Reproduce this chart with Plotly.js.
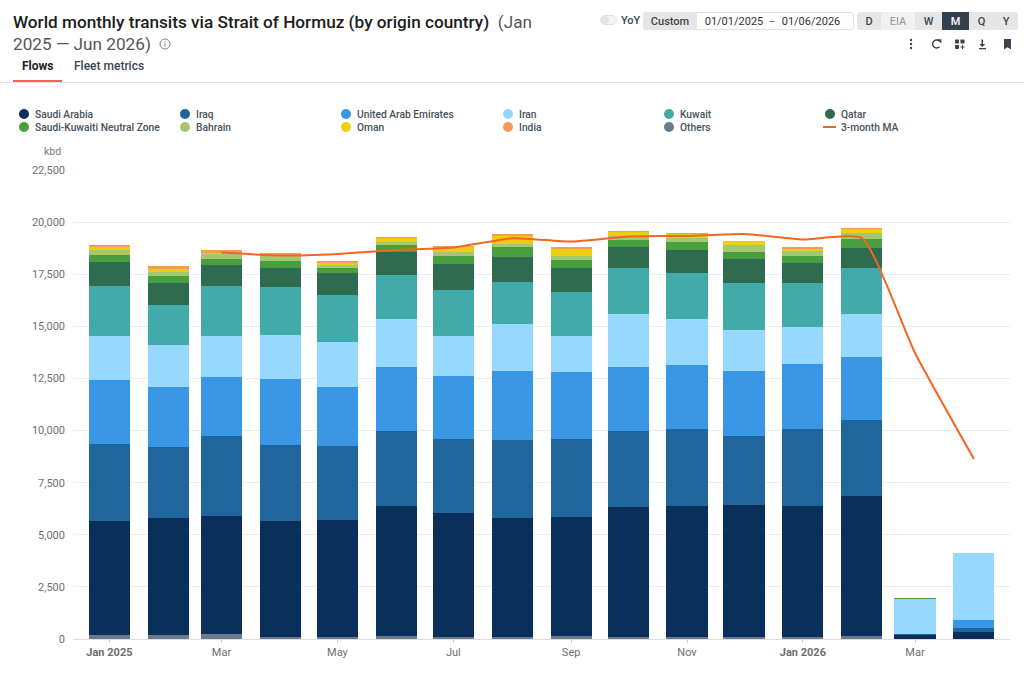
<!DOCTYPE html>
<html><head><meta charset="utf-8">
<script src="https://cdn.plot.ly/plotly-3.0.1.min.js"></script>
<style>
html,body{margin:0;padding:0;background:#fff;font-family:Roboto,sans-serif}
#wrap{position:relative;width:1024px;height:675px;overflow:hidden}
#chart{position:absolute;left:0;top:0;width:1024px;height:675px}
.ui{position:absolute;font-family:Roboto,sans-serif;font-size:11px;line-height:19px;text-align:center;color:#3c4650;font-weight:500;white-space:nowrap}
.box{position:absolute;box-sizing:border-box}
svg.ico{position:absolute;overflow:visible}
</style></head><body>
<div id="wrap">
<div id="chart"></div>
<div class="ui" style="left:22px;top:57px;color:#222;font-weight:700;font-size:12px">Flows</div>
<div class="ui" style="left:74px;top:57px;color:#3c4650;font-size:12px">Fleet metrics</div>
<div class="box" style="left:13px;top:80px;width:49px;height:2px;background:#f0605a"></div>
<div class="box" style="left:0;top:82px;width:1024px;height:1px;background:#e2e2e2"></div>
<svg class="ico" style="left:158px;top:37px" width="14" height="14" viewBox="0 0 14 14"><circle cx="7" cy="7" r="5" fill="none" stroke="#7d8792" stroke-width="1"/><rect x="6.500" y="6.200" width="1" height="3.400" fill="#7d8792"/><rect x="6.500" y="4.200" width="1" height="1.100" fill="#7d8792"/></svg>
<div class="box" style="left:600px;top:15px;width:17px;height:10px;border-radius:5px;background:#f4f4f4;border:1px solid #e2e2e2"></div>
<div class="box" style="left:601px;top:16px;width:8px;height:8px;border-radius:4px;background:#e4e4e4"></div>
<div class="ui" style="left:621px;top:11px">YoY</div>
<div class="box" style="left:643px;top:12px;width:211px;height:18px;border-radius:3px;border:1px solid #e2e2e2;background:#fff"></div>
<div class="ui" style="left:643px;top:12px;width:54px;height:18px;background:#e6e6e6;border-radius:3px 0 0 3px">Custom</div>
<div class="ui" style="left:704px;top:12px;width:60px;font-weight:400;color:#333">01/01/2025</div>
<div class="ui" style="left:768px;top:12px;width:8px;font-weight:400;color:#777">–</div>
<div class="ui" style="left:781px;top:12px;width:60px;font-weight:400;color:#333">01/06/2026</div>
<div class="ui" style="left:857px;top:12px;width:24px;height:18px;background:#e6e6e6;border-radius:3px 0 0 3px">D</div>
<div class="ui" style="left:881px;top:12px;width:34px;height:18px;background:#f1f1f1;color:#8d949b;font-weight:400">EIA</div>
<div class="ui" style="left:915px;top:12px;width:27px;height:18px;background:#e6e6e6">W</div>
<div class="ui" style="left:942px;top:12px;width:27px;height:18px;background:#33414f;color:#fff">M</div>
<div class="ui" style="left:969px;top:12px;width:25px;height:18px;background:#e6e6e6">Q</div>
<div class="ui" style="left:994px;top:12px;width:24px;height:18px;background:#e6e6e6;border-radius:0 3px 3px 0">Y</div>
<svg class="ico" style="left:905px;top:37px" width="110" height="14" viewBox="0 0 110 14" fill="#3a4550">
<circle cx="6" cy="3" r="1.200"/><circle cx="6" cy="7" r="1.200"/><circle cx="6" cy="11" r="1.200"/>
<path d="M34.500 4.200A4 4 0 1 0 34.500 9.800" fill="none" stroke="#3a4550" stroke-width="1.500"/><path d="M31.800 2.200h4.600v4.400z"/>
<rect x="50" y="2.500" width="4" height="4" rx=".7"/><rect x="55.500" y="2.500" width="4" height="4" rx=".7"/><rect x="50" y="8" width="4" height="4" rx=".7"/><path d="M57 8h1v1.500h1.500v1H58V12h-1v-1.500h-1.500v-1H57z"/>
<path d="M76.500 2.500h1.500v4.500h2.300l-3 3-3-3h2.200z"/><rect x="74" y="11" width="7" height="1.300"/>
<path d="M99 2h7v10.500l-3.500-2.300-3.500 2.300z"/>
</svg>
</div>
<script>
const months = ["2025-01-01","2025-02-01","2025-03-01","2025-04-01","2025-05-01","2025-06-01","2025-07-01","2025-08-01","2025-09-01","2025-10-01","2025-11-01","2025-12-01","2026-01-01","2026-02-01","2026-03-01","2026-04-01"];
const others  = [170,170,220,120,100,140,110,90,130,100,100,120,100,160,0,0];
const saudi   = [5490,5636,5682,5542,5610,6242,5936,5716,5724,6234,6282,6310,6282,6702,190,350];
const iraq    = [3695,3407,3815,3647,3551,3575,3551,3743,3743,3647,3695,3311,3671,3647,40,163];
const uae     = [3047,2855,2855,3167,2831,3095,2999,3311,3215,3071,3071,3119,3119,3023,30,413];
const iran    = [2121,2039,1953,2126,2174,2288,1929,2240,1742,2543,2222,1985,1799,2063,1640,3215];
const kuwait  = [2399,1935,2399,2274,2241,2110,2222,2016,2097,2193,2207,2223,2097,2193,0,0];
const qatar   = [1181,1026,1022,941,1070,1135,1233,1229,1137,1022,1103,1166,959,974,0,0];
const neutral = [321,336,288,336,240,305,414,450,398,336,385,351,367,448,60,0];
const bahrain = [225,206,254,211,129,160,161,159,192,192,192,321,238,290,0,0];
const oman    = [175,160,12,76,110,176,255,384,322,177,153,169,82,160,0,0];
const india   = [64,128,151,82,97,79,62,80,95,75,70,25,81,62,0,0];
const ma3     = [null,null,18540,18394,18474,18666,18777,19226,19065,19305,19338,19434,19165,19240,13720,8637];
const xTickVals = ["2025-01-01","2025-03-01","2025-05-01","2025-07-01","2025-09-01","2025-11-01","2026-01-01","2026-03-01"];
const xTickText = ["<b>Jan 2025</b>","Mar","May","Jul","Sep","Nov","<b>Jan 2026</b>","Mar"];
const yTickVals = [0,2500,5000,7500,10000,12500,15000,17500,20000,22500];
const barSeries = [
  ["Others",others,"#6b7a8c"],["Saudi Arabia",saudi,"#0a2f5a"],["Iraq",iraq,"#20659c"],
  ["United Arab Emirates",uae,"#3a97e6"],["Iran",iran,"#97d8ff"],["Kuwait",kuwait,"#42abaa"],
  ["Qatar",qatar,"#2e6b4f"],["Saudi-Kuwaiti Neutral Zone",neutral,"#479f3f"],["Bahrain",bahrain,"#a2c96f"],
  ["Oman",oman,"#eecf10"],["India",india,"#f29b5c"]];
const maColor = "#f26522";
const legendRows = [
  ["Saudi Arabia","Iraq","United Arab Emirates","Iran","Kuwait","Qatar"],
  ["Saudi-Kuwaiti Neutral Zone","Bahrain","Oman","India","Others","3-month MA"]];
const legendCols = [24,185,346,508,669,830];
const legendRowY = [114,127];

const W=1024,H=675,M={l:73,r:14,t:170,b:36};
const px=X=>(X-M.l)/(W-M.l-M.r), py=Y=>1-(Y-M.t)/(H-M.t-M.b);
const barWidth=21.6*864e5;
const traces=barSeries.map(([name,y,color])=>({type:"bar",name,x:months,y,width:barWidth,marker:{color,line:{width:0}},showlegend:false}));
traces.push({type:"scatter",mode:"lines",name:"3-month MA",x:months,y:ma3,line:{color:maColor,width:2,shape:"spline",smoothing:0.5},showlegend:false});
const colorOf=Object.fromEntries(barSeries.map(s=>[s[0],s[2]]));
const shapes=[],annotations=[];
legendRows.forEach((row,r)=>row.forEach((name,c)=>{
  const cx=legendCols[c],cy=legendRowY[r];
  if(colorOf[name]) shapes.push({type:"circle",xref:"paper",yref:"paper",x0:px(cx-5),x1:px(cx+5),y0:py(cy+5),y1:py(cy-5),fillcolor:colorOf[name],line:{width:0}});
  else shapes.push({type:"line",xref:"paper",yref:"paper",x0:px(cx-7),x1:px(cx+6),y0:py(cy),y1:py(cy),line:{color:maColor,width:2}});
  annotations.push({xref:"paper",yref:"paper",x:px(cx+9.3),y:py(cy),xanchor:"left",yanchor:"middle",showarrow:false,text:name,font:{family:"Roboto",size:10.25,weight:500,color:"#48525c"}});
}));
annotations.push({xref:"paper",yref:"paper",x:px(52),y:py(152),xanchor:"center",yanchor:"middle",showarrow:false,text:"kbd",font:{family:"Roboto",size:10.5,color:"#7a7a7a"}});
const layout={
  width:W,height:H,margin:M,paper_bgcolor:"#fff",plot_bgcolor:"#fff",barmode:"stack",showlegend:false,
  title:{text:'World monthly transits via Strait of Hormuz (by origin country) <span style="font-weight:400;color:#555">&nbsp;(Jan</span><br><span style="font-weight:400;color:#555">2025 — Jun 2026)</span>',
    x:13/W,xanchor:"left",y:1-27.5/H,yanchor:"middle",font:{family:"Roboto",size:17.2,weight:500,color:"#1c1c1c"}},
  font:{family:"Roboto"},
  xaxis:{type:"date",range:["2024-12-12 20:00","2026-04-20"],tickmode:"array",tickvals:xTickVals,ticktext:xTickText,ticks:"outside",ticklen:3,tickcolor:"#cfcfcf",
    tickfont:{family:"Roboto",size:11,color:"#6e6e6e"},showgrid:false,showline:true,linecolor:"#dedede",linewidth:1,zeroline:false},
  yaxis:{range:[0,22500],tickmode:"array",tickvals:yTickVals,tickformat:",d",ticks:"",ticklabelstandoff:7,tickfont:{family:"Roboto",size:11,color:"#6e6e6e"},
    showgrid:true,gridcolor:"#eeeeee",gridwidth:1,zeroline:false,showline:false},
  shapes,annotations};
Plotly.newPlot("chart",traces,layout,{displayModeBar:false,staticPlot:true});
</script>
</body></html>
